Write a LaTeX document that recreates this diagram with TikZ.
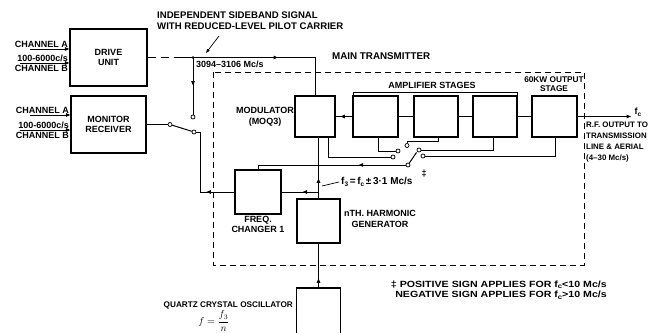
\documentclass[tikz,border=0pt]{standalone}
\usepackage{fontspec}
\setmainfont{Liberation Sans}
\newfontfamily\widefont[FakeStretch=1.18]{Liberation Sans}
\usetikzlibrary{arrows.meta,decorations.markings}
\newcommand{\fsub}[1]{f\raisebox{-0.35ex}{\fontsize{6.5}{6.5}\selectfont #1}}
\begin{document}
\begin{tikzpicture}[x=1pt,y=-1pt,
  box/.style={draw,line width=1.3pt,inner sep=0pt,align=center,font=\fontsize{9}{10.5}\selectfont\bfseries},
  wire/.style={line width=1pt},
  lbl/.style={font=\fontsize{9}{10.5}\selectfont\bfseries,inner sep=0pt},
  contact/.style={circle,draw,line width=0.7pt,fill=white,inner sep=0pt,minimum size=4pt},
  jdot/.style={circle,fill,inner sep=0pt,minimum size=2.6pt},
  tip/.style={-{Triangle[length=4.5pt,width=3.5pt]},line width=1pt},
  midarrow/.style={postaction={decorate},decoration={markings,mark=at position #1 with {\arrow{Triangle[length=4.5pt,width=3.5pt]}}}},
]
\useasboundingbox (0,0) rectangle (653,332);

% main transmitter frame
\draw[line width=0.9pt,dash pattern=on 6pt off 4pt] (213,72) rectangle (584,265);

% boxes
\node[box,minimum width=77pt,minimum height=57pt] (drive) at (108.5,57.5) {DRIVE\\UNIT};
\node[box,minimum width=75pt,minimum height=57pt] (monitor) at (108.5,124.5) {MONITOR\\RECEIVER};
\node[box,minimum width=40pt,minimum height=41pt] (mod) at (315,116.5) {};
\node[box,minimum width=45pt,minimum height=41pt] (amp1) at (375.5,116.5) {};
\node[box,minimum width=44pt,minimum height=41pt] (amp2) at (436,116.5) {};
\node[box,minimum width=44pt,minimum height=41pt] (amp3) at (495,116.5) {};
\node[box,minimum width=45pt,minimum height=41pt] (out) at (554.5,116.5) {};
\node[box,minimum width=46pt,minimum height=44pt] (fchg) at (258,192) {};
\node[box,minimum width=43pt,minimum height=44pt] (nth) at (318.5,221) {};
\node[box,minimum width=44pt,minimum height=46pt] (quartz) at (318.5,311) {};

% inputs
\foreach \n/\ya/\yb in {drive/49/63,monitor/115/130}{
  \coordinate (ia\n) at (30,\ya);
  \coordinate (ib\n) at (20,\yb);
  \draw[tip] (ia\n) -- (ia\n -| \n.west);
  \draw[tip] (ib\n) -- (ib\n -| \n.west);
}
\node[lbl,anchor=south east] (chA1) at (68,47.5) {CHANNEL A};
\node[lbl,anchor=south east] (fr1) at (68,61.5) {100-6000c/s};
\node[lbl,anchor=north east] (chB1) at (68,65) {CHANNEL B};
\node[lbl,anchor=south east] (chA2) at (69,113.5) {CHANNEL A};
\node[lbl,anchor=south east] (fr2) at (69,128.5) {100-6000c/s};
\node[lbl,anchor=north east] (chB2) at (69,132) {CHANNEL B};

% drive output to modulator
\coordinate (dashend) at (175,57.5);
\coordinate (j1) at (193,57.5);
\draw[wire,dashed,dash pattern=on 8pt off 5pt] (drive.east) -- (dashend);
\draw[wire,midarrow=103pt] (dashend) -- (dashend -| mod.north) -- (mod.north);
\node[contact] (ca) at (193,117) {};
\draw[wire,midarrow=28pt] (j1) -- (ca);
\node[jdot] at (j1) {};

% monitor switch
\node[contact] (pv1) at (170,124.5) {};
\node[contact] (cb) at (194,132) {};
\draw[wire] (monitor.east) -- (pv1);
\draw[wire] (pv1) -- (cb);
\coordinate (m1) at (200,132);
\coordinate (m2) at (200,192);
\draw[wire,midarrow=28pt] (fchg.west) -- (m2) -- (m1) -- (cb);

% vertical modulator - nth harmonic
\coordinate (j2) at (318.5,192);
\draw[wire,midarrow=20pt] (nth.north) -- (nth.north |- mod.south);
\draw[wire,midarrow=16pt] (j2) -- (fchg.east);
\draw[wire,midarrow=9pt] (quartz.north) -- (nth.south);

% amplifier chain
\draw[wire,midarrow=12pt] (amp1.west) -- (mod.east);
\draw[wire] (amp1) -- (amp2);
\draw[wire] (amp2) -- (amp3);
\draw[wire] (amp3) -- (out);
\coordinate (fc) at (631,116.5);
\draw[tip] (out.east) -- (fc);

% sampling switch
\node[contact] (c1) at (393,157) {};
\node[contact] (c2) at (398,151) {};
\node[contact] (c3) at (407,145.5) {};
\node[contact] (c4) at (419,150) {};
\node[contact] (c5) at (423,156) {};
\node[contact] (pv2) at (408,165) {};
\coordinate (bl) at (416.5,152.5);
\draw[wire] (pv2) -- (bl);
\draw[wire] (mod.south -| 328,0) -- (328,157) -- (c1);
\draw[wire] (amp1.south -| 378,0) -- (378,151) -- (c2);
\draw[wire] (amp2.south -| 438,0) -- (438,141) -- (407,141) -- (c3);
\draw[wire] (amp3.south -| 493,0) -- (493,150) -- (c4);
\draw[wire] (out.south -| 555,0) -- (555,156) -- (c5);
\coordinate (s1) at (258,165);
\draw[wire,midarrow=47pt] (pv2) -- (s1) -- (fchg.north);

% labels
\node[lbl,font=\fontsize{9.6}{11}\selectfont\bfseries,anchor=west,align=left] (isb) at (157,21) {INDEPENDENT SIDEBAND SIGNAL\\WITH REDUCED-LEVEL PILOT CARRIER};
\coordinate (isbA) at (219,36);
\coordinate (isbB) at (206,53);
\draw[-{Triangle[length=4pt,width=3pt]},line width=0.7pt] (isbA) -- (isbB);
\node[lbl,anchor=west] (freqd) at (196,64) {3094–3106 Mc/s};
\node[lbl,font=\fontsize{9.8}{11}\selectfont\bfseries,anchor=west] (mt) at (332,56) {MAIN TRANSMITTER};
\node[lbl,align=center] (modl) at (265,117) {MODULATOR\\(MOQ3)};
\node[lbl] (ampl) at (432,85) {AMPLIFIER STAGES};
\draw[line width=0.7pt] (353,95) -- (353,92) -- (517,92) -- (517,95);
\node[lbl,font=\fontsize{8.3}{9.5}\selectfont\bfseries,align=center] (outl) at (554,84) {60KW OUTPUT\\STAGE};
\node[lbl] (fcl) at (638,112) {\fsub{c}};
\node[lbl,font=\fontsize{7.9}{10.8}\selectfont\bfseries,anchor=west,align=left] (rfl) at (586,142) {R.F. OUTPUT TO\\TRANSMISSION\\LINE \& AERIAL\\(4–30 Mc/s)};
\node[lbl,align=center] (fchl) at (258,224.5) {FREQ.\\CHANGER 1};
\node[lbl,align=center] (nthl) at (380,219) {nTH. HARMONIC\\GENERATOR};
\coordinate (f3a) at (322,186);
\coordinate (f3b) at (339,182);
\draw[line width=0.7pt] (f3a) -- (f3b);
\node[lbl,font=\fontsize{10}{11}\selectfont\bfseries,anchor=west] (f3l) at (341,182) {\fsub{3}\,=\,\fsub{c}\,±\,3·1 Mc/s};
\node[lbl] (dg) at (424,174) {‡};
\node[lbl,font=\fontsize{8.2}{10}\selectfont\bfseries,anchor=east] (ql) at (293,305) {QUARTZ CRYSTAL OSCILLATOR};
\node[lbl,font=\fontsize{10}{11}\selectfont] (qf) at (214,321) {$\displaystyle f=\frac{f_3}{n}$};
\node[lbl,font=\fontsize{9}{10.5}\selectfont\bfseries\widefont,anchor=east,align=right] (note) at (607,290) {‡ POSITIVE SIGN APPLIES FOR \fsub{c}<10 Mc/s\\NEGATIVE SIGN APPLIES FOR \fsub{c}>10 Mc/s};
\end{tikzpicture}
\end{document}
